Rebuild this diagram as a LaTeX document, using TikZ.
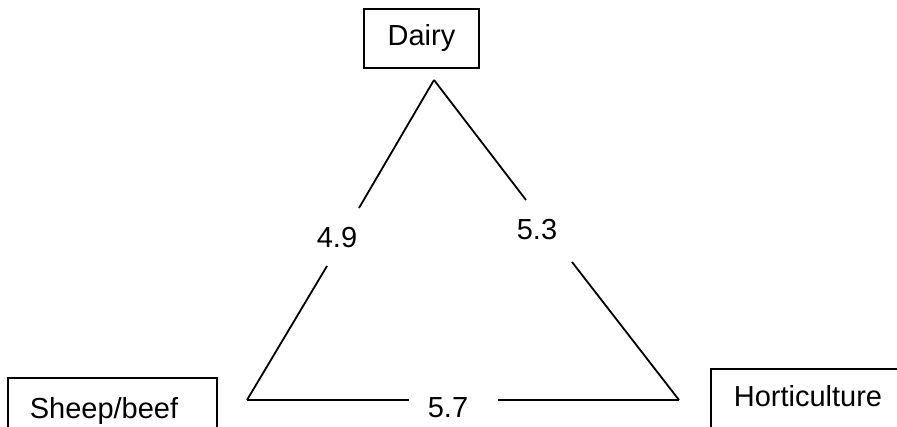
\documentclass[tikz,border=0pt]{standalone}
\usepackage{fontspec}
\setmainfont{Liberation Sans}
\begin{document}
\begin{tikzpicture}[x=1pt,y=-1pt,
  boxnode/.style={draw,line width=1.8pt,inner sep=0pt,font=\fontsize{29}{31}\selectfont},
  edgeline/.style={line width=1.8pt},
  vallabel/.style={inner sep=0pt,font=\fontsize{29}{31}\selectfont}]
\useasboundingbox (0,0) rectangle (897,427);
\clip (0,0) rectangle (897,427);
\node[boxnode,minimum width=115pt,minimum height=59pt] (dairy) at (421.5,38.5) {Dairy};
\node[boxnode,minimum width=209pt,minimum height=66pt] (sheep) at (112.5,411) {Sheep/beef\hspace*{17pt}};
\node[boxnode,minimum width=194pt,minimum height=66pt] (hort) at (808,402) {\raisebox{12pt}{Horticulture}};
\coordinate (top) at (434,80);
\coordinate (bl) at (247,400);
\coordinate (br) at (679,400);
\coordinate (l1) at (359,208);
\coordinate (l2) at (327,266);
\coordinate (r1) at (526,200);
\coordinate (r2) at (572,262);
\coordinate (b1) at (409,400);
\coordinate (b2) at (498,400);
\draw[edgeline] (top) -- (l1);
\draw[edgeline] (l2) -- (bl);
\draw[edgeline] (top) -- (r1);
\draw[edgeline] (r2) -- (br);
\draw[edgeline] (bl) -- (b1);
\draw[edgeline] (b2) -- (br);
\node[vallabel] (v49) at (337,238) {4.9};
\node[vallabel] (v53) at (537,230) {5.3};
\node[vallabel] (v57) at (448,408) {5.7};
\end{tikzpicture}
\end{document}
